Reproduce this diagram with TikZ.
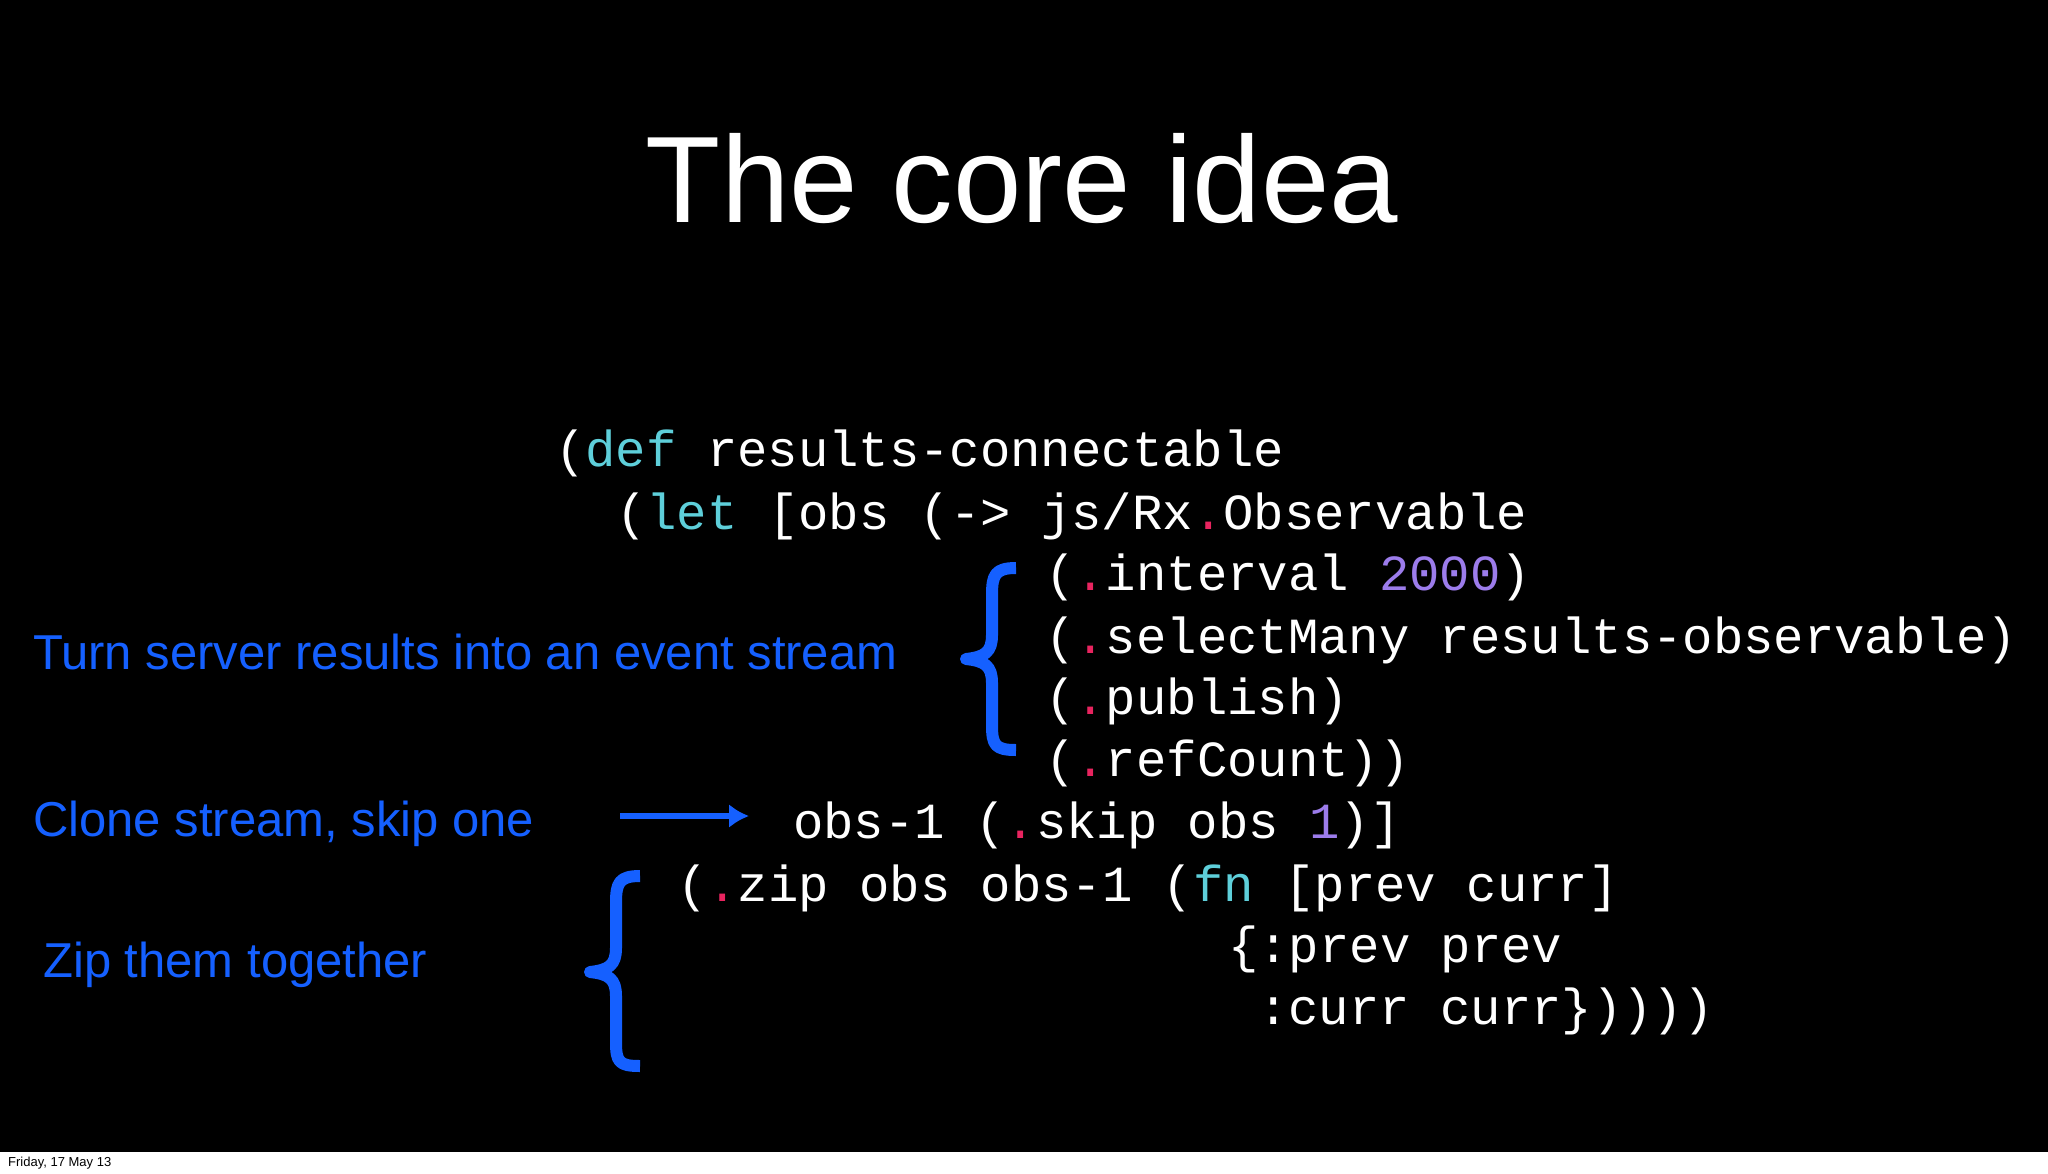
\documentclass[tikz,border=0pt]{standalone}
\usepackage{fontspec}
\usetikzlibrary{arrows.meta}
\setmainfont{Liberation Sans}
\setmonofont{Liberation Mono}
\definecolor{kwc}{HTML}{5ECFDA}
\definecolor{dtc}{HTML}{E8245F}
\definecolor{nmc}{HTML}{9C7CEB}
\definecolor{blu}{HTML}{1560FF}
\newcommand\kw[1]{\textcolor{kwc}{#1}}
\newcommand\dt{\textcolor{dtc}{.}}
\newcommand\nm[1]{\textcolor{nmc}{#1}}
\tikzset{
 code/.style={anchor=base west,inner sep=0pt,text=white,font=\fontsize{50.6}{60}\ttfamily},
 lbl/.style={anchor=base west,inner sep=0pt,text=blu,font=\fontsize{49}{58}\selectfont},
 brc/.style={draw=blu,line width=12pt,line cap=butt,line join=round}
}
\begin{document}
\begin{tikzpicture}[x=1pt,y=-1pt]
\useasboundingbox (0,0) rectangle (2048,1173);
\fill[white] (0,0) rectangle (2048,1173);
\fill[black] (0,0) rectangle (2048,1152);
\node[anchor=base,inner sep=0pt,text=white,font=\fontsize{123}{140}\selectfont] (title) at (1022,222) {The core idea};
\node[code] (l1) at (555,466) {(\kw{def} results-connectable};
\node[code] (l2) at (616,529) {(\kw{let} [obs (-> js/Rx\dt Observable};
\node[code] (l3) at (1045,590) {(\dt interval \nm{2000})};
\node[code] (l4) at (1045,653) {(\dt selectMany results-observable)};
\node[code] (l5) at (1045,714) {(\dt publish)};
\node[code] (l6) at (1045,776) {(\dt refCount))};
\node[code] (l7) at (793,838) {obs-1 (\dt skip obs \nm{1})]};
\node[code] (l8) at (677,901) {(\dt zip obs obs-1 (\kw{fn} [prev curr]};
\node[code] (l9) at (1228,962) {\{:prev prev};
\node[code] (l10) at (1258,1024) {:curr curr\}))))};
\node[lbl] (t1) at (33,669) {Turn server results into an event stream};
\node[lbl] (t2) at (33,836) {Clone stream, skip one};
\node[lbl] (t3) at (43,977) {Zip them together};
\coordinate (a1) at (620,816);
\coordinate (a2) at (749,816);
\draw[blu,line width=6.5pt,-{Latex[length=20pt,width=24pt]}] (a1) -- (a2);
\draw[brc] (1016,568) .. controls (995,568) and (992,575) .. (992,595) -- (992,635) .. controls (992,652) and (985,657) .. (966,659)
 .. controls (985,661) and (992,666) .. (992,683) -- (992,725) .. controls (992,745) and (995,750) .. (1016,750);
\draw[brc] (640,876) .. controls (619,876) and (616,883) .. (616,903) -- (616,948) .. controls (616,965) and (609,970) .. (590,972)
 .. controls (609,974) and (616,979) .. (616,996) -- (616,1042) .. controls (616,1062) and (619,1066) .. (640,1066);
\node[anchor=base west,inner sep=0pt,font=\fontsize{13}{15}\selectfont] (date) at (8,1166) {Friday, 17 May 13};
\end{tikzpicture}
\end{document}
